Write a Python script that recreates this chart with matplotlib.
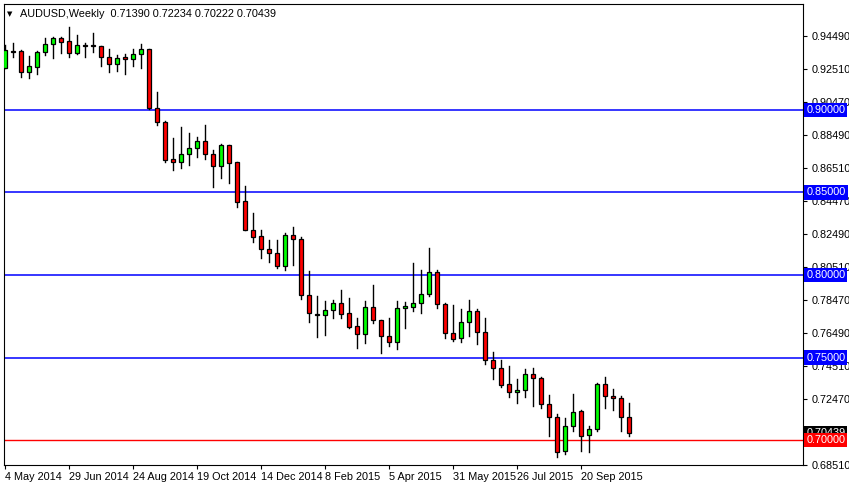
import matplotlib
matplotlib.use("Agg")
import matplotlib.pyplot as plt
from matplotlib.patches import Rectangle

plt.rcParams['font.family'] = ['Liberation Sans', 'DejaVu Sans']

opens = [.9255,.9358,.9358,.9230,.9261,.9352,.9400,.9436,.9418,.9346,.9394,.9394,.9388,.9321,.9279,.9321,.9309,.9339,
         .9370,.9012,.8927,.8703,.8685,.8733,.8770,.8812,.8733,.8661,.8788,.8685,.8448,.8273,.8236,.8158,.8133,.8055,
         .8242,.8218,.7879,.7758,.7758,.7788,.7830,.7770,.7691,.7642,.7806,.7727,.7630,.7594,.7800,.7806,.7830,.7885,
         .8018,.7824,.7649,.7618,.7715,.7782,.7655,.7485,.7436,.7339,.7291,.7303,.7400,.7376,.7218,.7139,.6933,.7085,
         .7176,.7030,.7067,.7339,.7267,.7255,.7139]
highs = [.9394,.9406,.9364,.9327,.9358,.9436,.9442,.9442,.9503,.9455,.9406,.9467,.9388,.9370,.9333,.9339,.9370,.9400,
         .9370,.9109,.8933,.8830,.8897,.8861,.8836,.8909,.8758,.8794,.8788,.8685,.8539,.8376,.8273,.8212,.8212,.8255,
         .8291,.8230,.8024,.7873,.7842,.7848,.7909,.7861,.7739,.7842,.7939,.7727,.7739,.7842,.7836,.8073,.8030,.8164,
         .8030,.7830,.7818,.7794,.7848,.7794,.7739,.7533,.7485,.7448,.7370,.7430,.7436,.7382,.7273,.7158,.7133,.7279,
         .7182,.7085,.7346,.7382,.7309,.7267,.7223]
lows = [.9255,.9321,.9200,.9194,.9218,.9333,.9315,.9346,.9321,.9339,.9321,.9352,.9267,.9230,.9236,.9218,.9267,.9255,
        .9006,.8909,.8685,.8636,.8648,.8667,.8715,.8703,.8533,.8588,.8558,.8412,.8273,.8200,.8103,.8079,.8042,.8030,
        .8061,.7855,.7715,.7624,.7636,.7739,.7739,.7679,.7558,.7588,.7709,.7527,.7570,.7552,.7679,.7782,.7770,.7873,
        .7800,.7618,.7600,.7594,.7630,.7582,.7461,.7370,.7321,.7261,.7224,.7261,.7206,.7194,.7024,.6897,.6915,.7055,
        .6933,.6927,.7055,.7194,.7182,.7055,.7022]
closes = [.9364,.9352,.9230,.9267,.9352,.9400,.9436,.9412,.9346,.9394,.9388,.9388,.9321,.9279,.9315,.9309,.9339,.9370,
          .9012,.8927,.8697,.8685,.8733,.8770,.8812,.8733,.8661,.8788,.8679,.8442,.8273,.8230,.8158,.8133,.8055,.8242,
          .8218,.7879,.7770,.7764,.7788,.7830,.7764,.7685,.7642,.7806,.7727,.7630,.7594,.7800,.7812,.7830,.7885,.8018,
          .7824,.7649,.7612,.7715,.7782,.7655,.7485,.7436,.7333,.7291,.7303,.7400,.7376,.7218,.7139,.6927,.7085,.7170,
          .7024,.7067,.7339,.7267,.7255,.7139,.7044]

date_labels = ["4 May 2014", "29 Jun 2014", "24 Aug 2014", "19 Oct 2014", "14 Dec 2014",
               "8 Feb 2015", "5 Apr 2015", "31 May 2015", "26 Jul 2015", "20 Sep 2015"]
price_ticks = [0.94490, 0.92510, 0.90470, 0.88490, 0.86510, 0.84470, 0.82490, 0.80510,
               0.78470, 0.76490, 0.74510, 0.72470, 0.68510]
blue_levels = [0.90, 0.85, 0.80, 0.75]
red_level = 0.70
last_price = 0.70439

fig = plt.figure(figsize=(8.49, 4.88), dpi=100)
ax = fig.add_axes([4/849, 23/488, 799/849, 461/488])
ymin, ymax = 0.6849, 0.9642
ax.set_xlim(-0.125, 99.75)
ax.set_ylim(ymin, ymax)

for lv in blue_levels:
    ax.axhline(lv, color="#0000ff", lw=1.1, zorder=1)
ax.axhline(red_level, color="#ff0000", lw=1.0, zorder=1)

w = 0.6
for i, (o, h, l, c) in enumerate(zip(opens, highs, lows, closes)):
    ax.plot([i, i], [l, h], color="black", lw=1.0, zorder=2)
    col = "#00ff00" if c >= o else "#ff0000"
    bot, top = min(o, c), max(o, c)
    if top - bot < 0.0004:
        ax.plot([i - w/2, i + w/2], [o, o], color="black", lw=1.2, zorder=3)
    else:
        ax.add_patch(Rectangle((i - w/2, bot), w, top - bot, facecolor=col,
                               edgecolor="black", lw=0.9, zorder=3))

fs = 7.8
ax.yaxis.tick_right()
ax.set_yticks(price_ticks)
ax.set_yticklabels([f"{p:.5f}" for p in price_ticks], fontsize=fs)
ax.tick_params(axis="y", length=3, pad=3)
ax.set_xticks(range(0, 80, 8))
ax.set_xticklabels(date_labels, fontsize=fs, ha="left")
ax.tick_params(axis="x", length=3, pad=2)

def box(y, text, fc):
    ax.text(1.004, (y - ymin) / (ymax - ymin), text, transform=ax.transAxes,
            fontsize=fs, color="white", va="center", ha="left",
            bbox=dict(boxstyle="square,pad=0.2", fc=fc, ec="none"))

for lv in blue_levels:
    box(lv, f"{lv:.5f}", "#0000ff")
box(last_price, f"{last_price:.5f}", "black")
box(red_level, f"{red_level:.5f}", "#ff0000")

ax.text(0.004, 0.985, "\u25BC", transform=ax.transAxes, fontsize=5, va="top", family="DejaVu Sans")
ax.text(0.02, 0.99, "AUDUSD,Weekly  0.71390 0.72234 0.70222 0.70439", transform=ax.transAxes,
        fontsize=fs, va="top")

fig.savefig("out.png", dpi=100)
